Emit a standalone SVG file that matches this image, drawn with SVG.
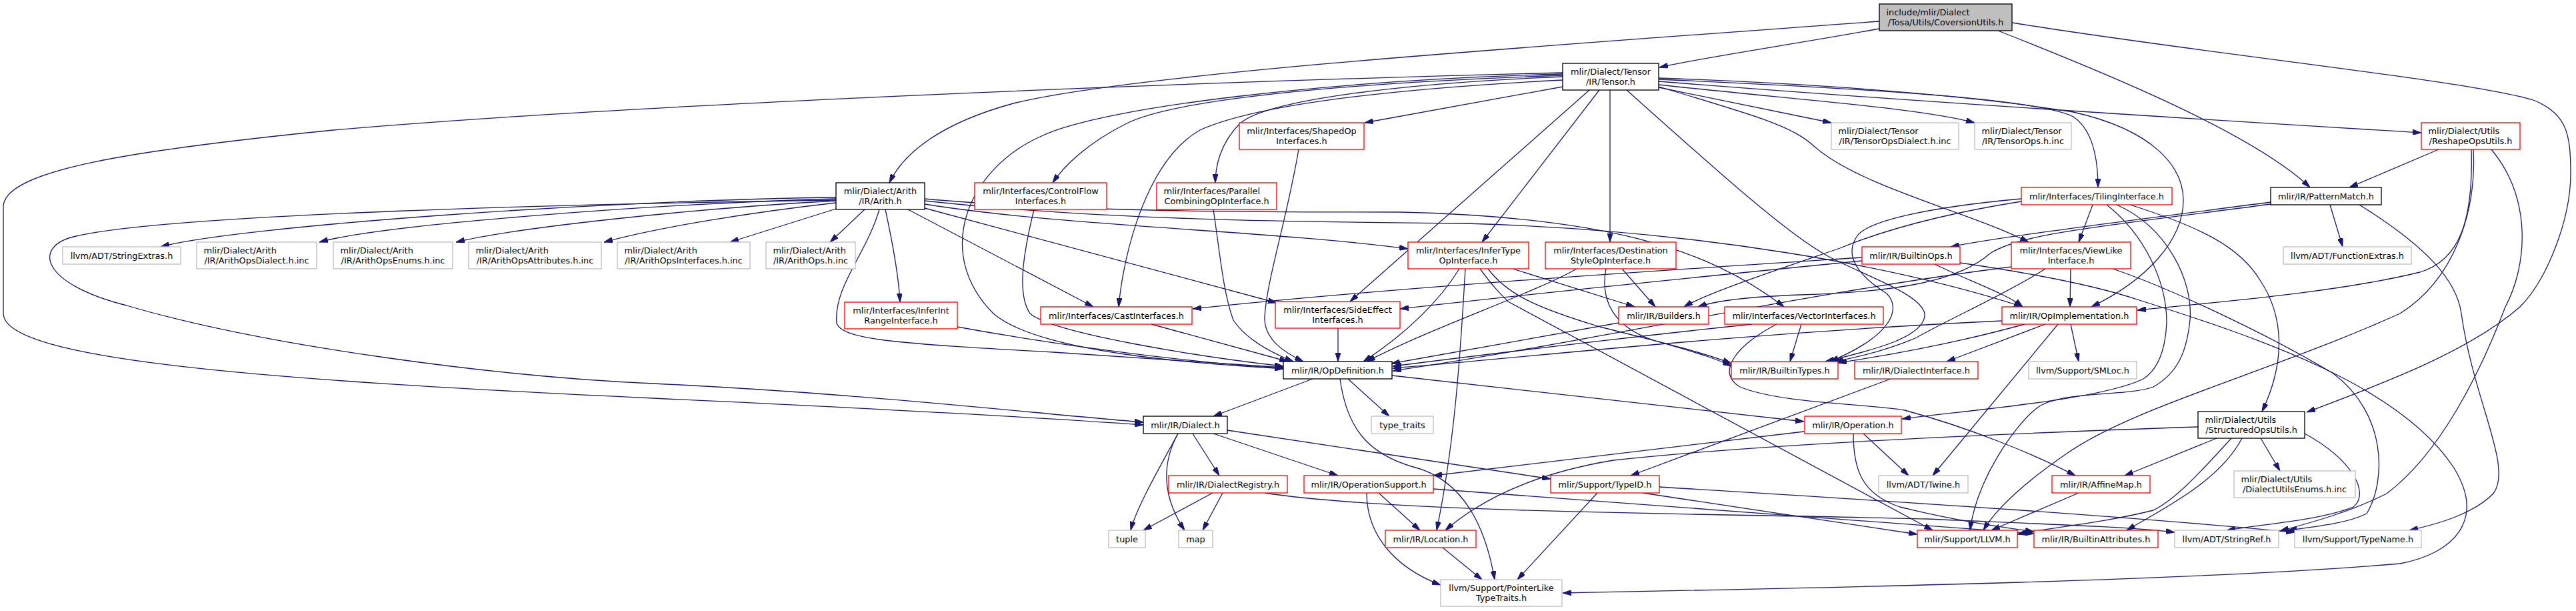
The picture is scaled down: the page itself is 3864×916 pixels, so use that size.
<svg xmlns="http://www.w3.org/2000/svg" width="3864" height="916" viewBox="0 0 3864 916">
<defs>
<marker id="a" markerWidth="13" markerHeight="8" refX="13" refY="4" orient="auto" markerUnits="userSpaceOnUse"><path d="M0,0 L13,4 L0,8 z" fill="#191970" stroke="#191970" stroke-width="1"/></marker>
</defs>
<style>
rect{fill:#fff;stroke-width:1.33}
.k rect{stroke:#000}
.r rect{stroke:#ff0000}
.g rect{stroke:#bfbfbf}
.root rect{fill:#bfbfbf;stroke:#000}
text{font-family:"DejaVu Sans","Liberation Sans",sans-serif;font-size:12.85px;fill:#000}
.c{text-anchor:middle}
.l{text-anchor:start}
#edges path{fill:none;stroke:#191970;stroke-width:1.3;marker-end:url(#a)}
</style>
<rect x="0" y="0" width="3864" height="916" style="fill:#fff;stroke:none"/>
<g id="edges">
<path d="M2819,43 C2700,65 2560,85 2489,101"/>
<path d="M2819,32 C2300,70 1700,110 1520,155 C1410,185 1355,230 1334,274"/>
<path d="M2997,46 C3160,110 3380,200 3465,281"/>
<path d="M3018,34 C3300,80 3700,120 3800,150 C3850,170 3856,200 3856,260 C3856,330 3820,420 3780,460 C3700,530 3560,580 3460,618"/>
<path d="M2344,130 L2047,184"/>
<path d="M2488,131 L2747,184"/>
<path d="M2488,127 C2700,150 2880,162 2962,184"/>
<path d="M2488,122 C2900,155 3400,185 3632,199"/>
<path d="M2488,119 C2850,135 3060,150 3110,175 C3140,195 3147,240 3147,281"/>
<path d="M2488,130 C2640,175 2690,190 2722,220 C2790,280 2960,320 3043,363"/>
<path d="M2488,117 C2800,128 3000,150 3110,168 C3230,195 3275,250 3275,300 C3275,360 3220,420 3137,460"/>
<path d="M2440,135 C2580,260 2680,350 2740,383 C2800,415 2880,440 2887,470 C2890,505 2810,525 2738,542"/>
<path d="M2384,135 L2025,452"/>
<path d="M2399,135 L2223,363"/>
<path d="M2415,135 L2415,363"/>
<path d="M2344,120 C2150,130 1900,150 1800,195 C1720,240 1685,380 1678,460"/>
<path d="M2344,115 C2100,125 1900,150 1860,185 C1830,215 1823,250 1823,274"/>
<path d="M2344,113 C2000,125 1760,150 1690,185 C1630,215 1595,250 1579,274"/>
<path d="M2344,111 C2000,120 1650,160 1560,205 C1450,255 1400,380 1490,470 C1560,530 1800,545 1925,553"/>
<path d="M2344,109 C1700,125 900,160 500,195 C200,225 5,255 5,310 L5,470 C5,540 400,570 980,597 C1300,612 1550,625 1715,637"/>
<path d="M1254,296 C900,300 350,340 241,370"/>
<path d="M1254,298 C1000,305 580,335 479,363"/>
<path d="M1254,301 C1050,312 780,340 684,363"/>
<path d="M1254,304 C1130,318 990,340 906,363"/>
<path d="M1254,313 L1095,363"/>
<path d="M1297,314 L1245,363"/>
<path d="M1254,300 C900,305 250,320 110,355 C50,370 60,425 190,458 C400,520 750,565 980,575 C1300,590 1550,620 1715,633"/>
<path d="M1328,314 C1338,360 1348,410 1350,453"/>
<path d="M1362,314 L1640,460"/>
<path d="M1387,312 L1915,454"/>
<path d="M1319,314 C1300,380 1250,430 1255,485 C1265,510 1350,515 1580,528 L1925,551"/>
<path d="M1387,306 C1600,340 1900,345 2112,373"/>
<path d="M1387,298 C1600,318 1900,318 2100,318 C2400,325 2560,370 2676,460"/>
<path d="M1387,301 C1650,330 1950,333 2200,335 C2550,345 2850,400 3034,460"/>
<path d="M1948,224 C1930,330 1900,420 1897,475 C1895,510 1930,530 1955,542"/>
<path d="M1551,314 C1535,380 1525,440 1545,470 C1580,500 1800,535 1925,549"/>
<path d="M1820,314 C1830,380 1835,440 1850,480 C1870,510 1910,530 1940,542"/>
<path d="M1436,490 C1600,520 1800,545 1925,552"/>
<path d="M1727,486 L1932,542"/>
<path d="M2007,492 L2007,542"/>
<path d="M2189,403 C2160,450 2110,500 2045,542"/>
<path d="M2365,403 C2300,440 2150,490 2050,542"/>
<path d="M2428,484 L2087,545"/>
<path d="M2628,486 C2400,510 2200,535 2089,549"/>
<path d="M3003,481 C2600,500 2300,535 2089,552"/>
<path d="M3017,400 C2700,440 2400,510 2089,556"/>
<path d="M2793,391 C2600,410 2300,440 2100,463"/>
<path d="M2793,386 C2500,405 2100,430 1789,463"/>
<path d="M2902,396 C2950,420 3010,440 3034,460"/>
<path d="M2940,394 C3050,410 3150,430 3209,450 C3400,510 3600,580 3680,700 C3730,780 3680,830 3600,845 C3300,870 2800,880 2344,889"/>
<path d="M3406,303 C3200,330 3000,355 2926,370"/>
<path d="M3406,306 C3150,340 3030,350 2985,380 C2940,420 2850,438 2700,442 C2620,445 2570,452 2547,460"/>
<path d="M3495,307 L3514,370"/>
<path d="M3539,307 C3640,370 3685,420 3692,470 C3710,600 3770,700 3740,740 C3710,770 3660,785 3614,795"/>
<path d="M3658,224 L3524,281"/>
<path d="M3707,224 C3710,330 3690,390 3630,408 C3500,440 3300,455 3206,465"/>
<path d="M3710,224 C3715,320 3680,420 3600,470 C3400,560 3200,610 3100,680 C3020,735 2990,770 2975,795"/>
<path d="M3737,224 C3800,300 3790,400 3758,460 C3720,560 3660,680 3580,740 C3520,770 3460,785 3420,796"/>
<path d="M3139,307 L3118,363"/>
<path d="M3032,302 C2950,315 2850,335 2760,372 C2650,410 2560,440 2526,460"/>
<path d="M3032,298 C2900,310 2800,330 2785,355 C2765,385 2790,415 2830,440 C2850,460 2845,500 2745,542"/>
<path d="M3195,307 C3300,340 3360,370 3390,420 C3430,480 3425,550 3393,617"/>
<path d="M3160,307 C3215,350 3250,420 3250,483 C3248,530 3235,555 3215,568 C3150,600 2950,615 2853,628"/>
<path d="M3175,307 C3250,340 3290,420 3285,480 C3280,530 3265,560 3230,580 C3190,595 3090,585 3055,612 C3020,640 2965,720 2955,795"/>
<path d="M3106,403 L3105,460"/>
<path d="M3068,403 C3010,440 2920,480 2873,507 C2830,525 2790,535 2752,542"/>
<path d="M3169,403 C3250,430 3400,500 3500,560 C3580,620 3580,720 3550,770 C3520,785 3470,790 3432,795"/>
<path d="M3037,486 C2950,510 2850,530 2757,544"/>
<path d="M3068,486 L2920,542"/>
<path d="M3106,486 L3118,542"/>
<path d="M3087,486 L2899,713"/>
<path d="M2702,486 L2685,542"/>
<path d="M2665,486 C2600,520 2575,560 2610,580 C2670,605 2800,605 2857,615 C2950,640 3050,680 3113,713"/>
<path d="M2836,568 L2446,713"/>
<path d="M1969,568 L1820,624"/>
<path d="M2022,568 L2084,624"/>
<path d="M2010,568 C2020,640 2050,680 2120,700 C2200,720 2230,800 2242,869"/>
<path d="M2088,563 L2706,632"/>
<path d="M1767,650 C1740,700 1705,760 1696,795"/>
<path d="M1767,650 C1745,690 1740,740 1777,795"/>
<path d="M1789,650 L1829,713"/>
<path d="M1820,650 L2007,713"/>
<path d="M1841,645 L2326,718"/>
<path d="M1819,739 L1715,795"/>
<path d="M1834,739 L1804,795"/>
<path d="M1897,739 C2100,770 2600,770 2890,778 C3050,785 3200,790 3262,798"/>
<path d="M2706,647 L2150,713"/>
<path d="M2795,650 L2863,713"/>
<path d="M2780,650 C2780,700 2790,740 2850,760 C2930,780 3000,790 3051,797"/>
<path d="M2050,739 C2050,800 2090,850 2161,877"/>
<path d="M2068,739 L2130,795"/>
<path d="M2150,733 C2500,760 2800,780 3051,800"/>
<path d="M2396,739 L2276,869"/>
<path d="M2464,739 L2876,801"/>
<path d="M2489,730 C2900,755 3200,775 3442,798"/>
<path d="M2164,821 L2223,869"/>
<path d="M2198,403 C2192,500 2185,650 2155,795"/>
<path d="M2220,403 C2240,430 2250,440 2262,452 L2899,795"/>
<path d="M2232,403 C2260,440 2300,460 2400,490 C2500,515 2560,530 2597,545"/>
<path d="M2269,403 L2452,460"/>
<path d="M2409,403 C2400,450 2420,490 2480,510 C2530,525 2570,535 2597,549"/>
<path d="M2433,403 L2483,460"/>
<path d="M3325,657 L3187,713"/>
<path d="M3363,657 C3330,720 3250,760 3190,795"/>
<path d="M3347,657 C3290,720 3260,750 3230,765 C3150,785 3080,790 3026,801"/>
<path d="M3297,640 C3000,650 2650,665 2420,690 C2300,710 2220,750 2168,795"/>
<path d="M3391,657 L3420,706"/>
<path d="M3457,650 C3530,690 3555,740 3530,760 C3480,780 3400,785 3340,795"/>
<path d="M3118,739 L2987,795"/>
</g>
<g id="root" class="root"><rect x="2819" y="6" width="199" height="40"/><text class="l" x="2829.5" y="22.5">include/mlir/Dialect</text><text class="c" x="2918.5" y="37.5">/Tosa/Utils/CoversionUtils.h</text></g>
<g id="tensor" class="k"><rect x="2344" y="95" width="144" height="40"/><text class="c" x="2416" y="111.5">mlir/Dialect/Tensor</text><text class="c" x="2416" y="126.5">/IR/Tensor.h</text></g>
<g id="arith" class="k"><rect x="1254" y="274" width="133" height="40"/><text class="c" x="1320.5" y="290.5">mlir/Dialect/Arith</text><text class="c" x="1320.5" y="305.5">/IR/Arith.h</text></g>
<g id="shaped" class="r"><rect x="1859" y="184" width="187" height="40"/><text class="c" x="1952.5" y="200.5">mlir/Interfaces/ShapedOp</text><text class="c" x="1952.5" y="215.5">Interfaces.h</text></g>
<g id="tdialect" class="g"><rect x="2747" y="184" width="191" height="40"/><text class="l" x="2757.5" y="200.5">mlir/Dialect/Tensor</text><text class="c" x="2842.5" y="215.5">/IR/TensorOpsDialect.h.inc</text></g>
<g id="tops" class="g"><rect x="2962" y="184" width="145" height="40"/><text class="l" x="2972.5" y="200.5">mlir/Dialect/Tensor</text><text class="c" x="3034.5" y="215.5">/IR/TensorOps.h.inc</text></g>
<g id="reshape" class="r"><rect x="3632" y="184" width="148" height="40"/><text class="l" x="3642.5" y="200.5">mlir/Dialect/Utils</text><text class="c" x="3706" y="215.5">/ReshapeOpsUtils.h</text></g>
<g id="cf" class="r"><rect x="1462" y="274" width="198" height="40"/><text class="c" x="1561" y="290.5">mlir/Interfaces/ControlFlow</text><text class="c" x="1561" y="305.5">Interfaces.h</text></g>
<g id="parallel" class="r"><rect x="1735" y="274" width="180" height="40"/><text class="l" x="1745.5" y="290.5">mlir/Interfaces/Parallel</text><text class="c" x="1825" y="305.5">CombiningOpInterface.h</text></g>
<g id="tiling" class="r"><rect x="3032" y="281" width="226" height="26"/><text class="c" x="3145" y="298.5">mlir/Interfaces/TilingInterface.h</text></g>
<g id="pattern" class="k"><rect x="3406" y="281" width="166" height="26"/><text class="c" x="3489" y="298.5">mlir/IR/PatternMatch.h</text></g>
<g id="strext" class="g"><rect x="94" y="370" width="177" height="26"/><text class="c" x="182.5" y="387.5">llvm/ADT/StringExtras.h</text></g>
<g id="aodialect" class="g"><rect x="295" y="363" width="180" height="40"/><text class="l" x="305.5" y="379.5">mlir/Dialect/Arith</text><text class="c" x="385" y="394.5">/IR/ArithOpsDialect.h.inc</text></g>
<g id="aoenums" class="g"><rect x="500" y="363" width="179" height="40"/><text class="l" x="510.5" y="379.5">mlir/Dialect/Arith</text><text class="c" x="589.5" y="394.5">/IR/ArithOpsEnums.h.inc</text></g>
<g id="aoattr" class="g"><rect x="703" y="363" width="199" height="40"/><text class="l" x="713.5" y="379.5">mlir/Dialect/Arith</text><text class="c" x="802.5" y="394.5">/IR/ArithOpsAttributes.h.inc</text></g>
<g id="aoiface" class="g"><rect x="926" y="363" width="199" height="40"/><text class="l" x="936.5" y="379.5">mlir/Dialect/Arith</text><text class="c" x="1025.5" y="394.5">/IR/ArithOpsInterfaces.h.inc</text></g>
<g id="aops" class="g"><rect x="1149" y="363" width="134" height="40"/><text class="l" x="1159.5" y="379.5">mlir/Dialect/Arith</text><text class="c" x="1216" y="394.5">/IR/ArithOps.h.inc</text></g>
<g id="infertype" class="r"><rect x="2112" y="363" width="181" height="40"/><text class="c" x="2202.5" y="379.5">mlir/Interfaces/InferType</text><text class="c" x="2202.5" y="394.5">OpInterface.h</text></g>
<g id="dest" class="r"><rect x="2318" y="363" width="196" height="40"/><text class="c" x="2416" y="379.5">mlir/Interfaces/Destination</text><text class="c" x="2416" y="394.5">StyleOpInterface.h</text></g>
<g id="builtinops" class="r"><rect x="2793" y="370" width="147" height="26"/><text class="c" x="2866.5" y="387.5">mlir/IR/BuiltinOps.h</text></g>
<g id="viewlike" class="r"><rect x="3017" y="363" width="179" height="40"/><text class="c" x="3106.5" y="379.5">mlir/Interfaces/ViewLike</text><text class="c" x="3106.5" y="394.5">Interface.h</text></g>
<g id="funcext" class="g"><rect x="3425" y="370" width="192" height="26"/><text class="c" x="3521" y="387.5">llvm/ADT/FunctionExtras.h</text></g>
<g id="inferint" class="r"><rect x="1267" y="453" width="169" height="40"/><text class="c" x="1351.5" y="469.5">mlir/Interfaces/InferInt</text><text class="c" x="1351.5" y="484.5">RangeInterface.h</text></g>
<g id="cast" class="r"><rect x="1561" y="460" width="227" height="26"/><text class="c" x="1674.5" y="477.5">mlir/Interfaces/CastInterfaces.h</text></g>
<g id="sideeff" class="r"><rect x="1913" y="452" width="187" height="40"/><text class="c" x="2006.5" y="468.5">mlir/Interfaces/SideEffect</text><text class="c" x="2006.5" y="483.5">Interfaces.h</text></g>
<g id="builders" class="r"><rect x="2428" y="460" width="135" height="26"/><text class="c" x="2495.5" y="477.5">mlir/IR/Builders.h</text></g>
<g id="vector" class="r"><rect x="2587" y="460" width="238" height="26"/><text class="c" x="2706" y="477.5">mlir/Interfaces/VectorInterfaces.h</text></g>
<g id="opimpl" class="r"><rect x="3003" y="460" width="202" height="26"/><text class="c" x="3104" y="477.5">mlir/IR/OpImplementation.h</text></g>
<g id="opdef" class="k"><rect x="1925" y="542" width="163" height="26"/><text class="c" x="2006.5" y="559.5">mlir/IR/OpDefinition.h</text></g>
<g id="btypes" class="r"><rect x="2597" y="542" width="160" height="26"/><text class="c" x="2677" y="559.5">mlir/IR/BuiltinTypes.h</text></g>
<g id="diface" class="r"><rect x="2782" y="542" width="185" height="26"/><text class="c" x="2874.5" y="559.5">mlir/IR/DialectInterface.h</text></g>
<g id="smloc" class="g"><rect x="3043" y="542" width="162" height="26"/><text class="c" x="3124" y="559.5">llvm/Support/SMLoc.h</text></g>
<g id="dialect" class="k"><rect x="1715" y="624" width="126" height="26"/><text class="c" x="1778" y="641.5">mlir/IR/Dialect.h</text></g>
<g id="typetraits" class="g"><rect x="2057" y="624" width="93" height="26"/><text class="c" x="2103.5" y="641.5">type_traits</text></g>
<g id="operation" class="r"><rect x="2707" y="624" width="145" height="26"/><text class="c" x="2779.5" y="641.5">mlir/IR/Operation.h</text></g>
<g id="structured" class="k"><rect x="3297" y="617" width="160" height="40"/><text class="l" x="3307.5" y="633.5">mlir/Dialect/Utils</text><text class="c" x="3377" y="648.5">/StructuredOpsUtils.h</text></g>
<g id="dregistry" class="r"><rect x="1753" y="713" width="178" height="26"/><text class="c" x="1842" y="730.5">mlir/IR/DialectRegistry.h</text></g>
<g id="opsupport" class="r"><rect x="1956" y="713" width="194" height="26"/><text class="c" x="2053" y="730.5">mlir/IR/OperationSupport.h</text></g>
<g id="typeid" class="r"><rect x="2326" y="713" width="163" height="26"/><text class="c" x="2407.5" y="730.5">mlir/Support/TypeID.h</text></g>
<g id="twine" class="g"><rect x="2818" y="713" width="134" height="26"/><text class="c" x="2885" y="730.5">llvm/ADT/Twine.h</text></g>
<g id="affine" class="r"><rect x="3078" y="713" width="147" height="26"/><text class="c" x="3151.5" y="730.5">mlir/IR/AffineMap.h</text></g>
<g id="duenums" class="g"><rect x="3351" y="706" width="182" height="40"/><text class="l" x="3361.5" y="722.5">mlir/Dialect/Utils</text><text class="c" x="3442" y="737.5">/DialectUtilsEnums.h.inc</text></g>
<g id="tuple" class="g"><rect x="1663" y="795" width="55" height="26"/><text class="c" x="1690.5" y="812.5">tuple</text></g>
<g id="map" class="g"><rect x="1768" y="795" width="51" height="26"/><text class="c" x="1793.5" y="812.5">map</text></g>
<g id="location" class="r"><rect x="2078" y="795" width="136" height="26"/><text class="c" x="2146" y="812.5">mlir/IR/Location.h</text></g>
<g id="llvm" class="r"><rect x="2876" y="795" width="150" height="26"/><text class="c" x="2951" y="812.5">mlir/Support/LLVM.h</text></g>
<g id="battr" class="r"><rect x="3051" y="795" width="186" height="26"/><text class="c" x="3144" y="812.5">mlir/IR/BuiltinAttributes.h</text></g>
<g id="strref" class="g"><rect x="3262" y="795" width="156" height="26"/><text class="c" x="3340" y="812.5">llvm/ADT/StringRef.h</text></g>
<g id="typename" class="g"><rect x="3442" y="795" width="190" height="26"/><text class="c" x="3537" y="812.5">llvm/Support/TypeName.h</text></g>
<g id="ptrlike" class="g"><rect x="2161" y="869" width="182" height="40"/><text class="c" x="2252" y="885.5">llvm/Support/PointerLike</text><text class="c" x="2252" y="900.5">TypeTraits.h</text></g>
</svg>
